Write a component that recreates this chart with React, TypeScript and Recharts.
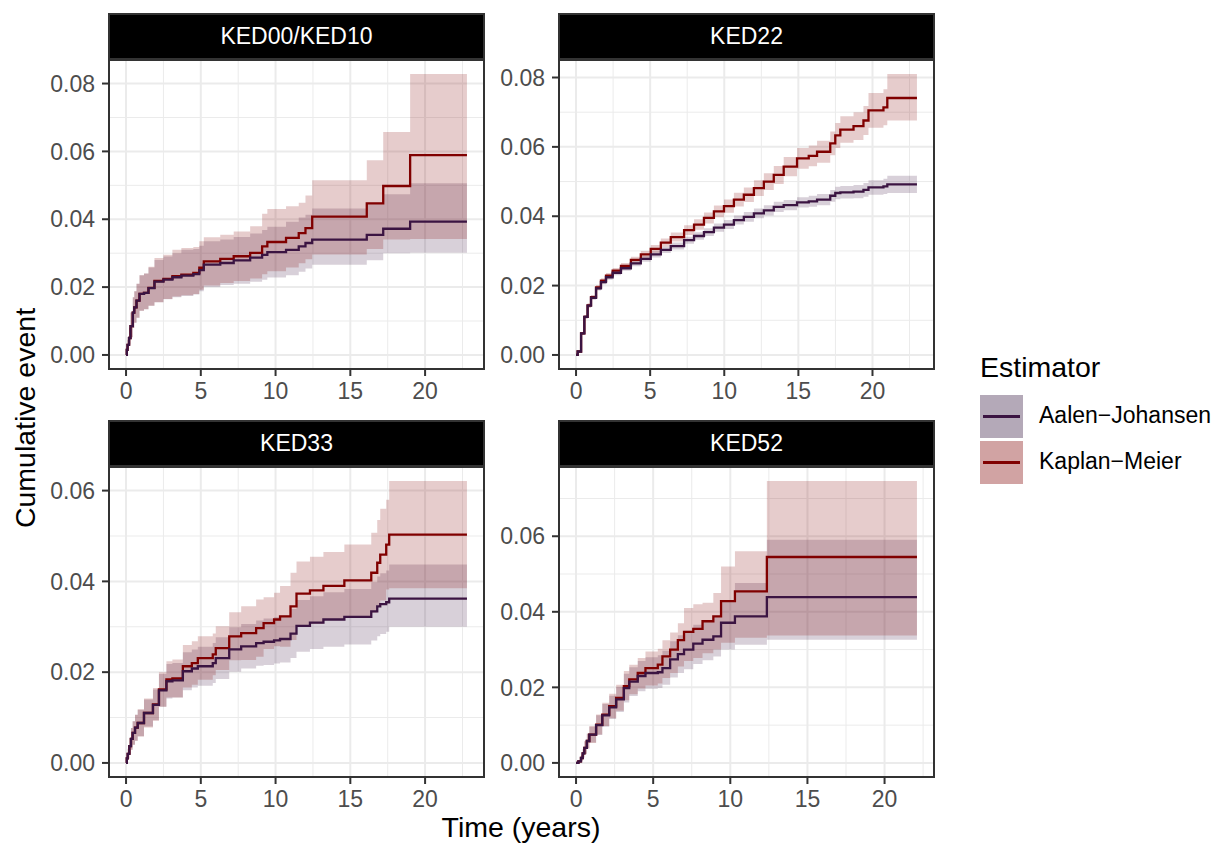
import React from "react";
import { Area, CartesianGrid, ComposedChart, Line, XAxis, YAxis } from "recharts";

const FONT = '"Liberation Sans", Arial, Helvetica, sans-serif';
const AJ_COLOR = "#3b1442";
const KM_COLOR = "#800000";

const xTicks = [0, 5, 10, 15, 20];
const xMinor = [2.5, 7.5, 12.5, 17.5, 22.5];

// KED00/KED10
const time1 = [0, 0.05, 0.1, 0.2, 0.3, 0.45, 0.55, 0.7, 0.9, 1.2, 1.5, 1.9, 2.5, 3.1, 3.7, 4.5, 4.9, 5.2, 6.3, 7.2, 8.3, 9.1, 9.45, 10.7, 11.55, 12.0, 12.45, 16.1, 17.2, 19.0, 22.8];
const km1 = [0, 0.0015, 0.003, 0.005, 0.0085, 0.0125, 0.014, 0.016, 0.018, 0.0183, 0.0198, 0.0218, 0.0224, 0.0232, 0.0237, 0.0242, 0.0257, 0.0276, 0.0283, 0.0291, 0.0301, 0.032, 0.0333, 0.0345, 0.0359, 0.0374, 0.0408, 0.0447, 0.0498, 0.0589, 0.0589];
const km1Lo = [0, 0.0008, 0.0017, 0.003, 0.0052, 0.008, 0.0095, 0.011, 0.013, 0.0135, 0.0145, 0.0155, 0.0165, 0.0172, 0.0176, 0.018, 0.0192, 0.0205, 0.0212, 0.0218, 0.0225, 0.0238, 0.0247, 0.0258, 0.027, 0.0282, 0.0296, 0.0312, 0.034, 0.0342, 0.0342];
const km1Hi = [0, 0.0022, 0.0045, 0.008, 0.0125, 0.017, 0.0188, 0.021, 0.0235, 0.024, 0.026, 0.0286, 0.0295, 0.031, 0.0315, 0.0318, 0.0335, 0.0347, 0.0354, 0.0364, 0.0379, 0.0416, 0.043, 0.0438, 0.0449, 0.047, 0.0515, 0.0574, 0.0657, 0.0828, 0.0828];
const aj1 = [0, 0.0015, 0.003, 0.005, 0.0085, 0.0125, 0.014, 0.016, 0.018, 0.0183, 0.0197, 0.0216, 0.0222, 0.0229, 0.0234, 0.0238, 0.025, 0.0266, 0.0271, 0.0279, 0.0287, 0.0295, 0.0303, 0.031, 0.032, 0.033, 0.034, 0.0354, 0.0372, 0.0393, 0.0393];
const aj1Lo = [0, 0.0008, 0.0017, 0.003, 0.0052, 0.008, 0.0095, 0.011, 0.013, 0.0135, 0.0145, 0.0155, 0.0164, 0.017, 0.0174, 0.0178, 0.0188, 0.02, 0.0206, 0.021, 0.0216, 0.0222, 0.0228, 0.0235, 0.0245, 0.0255, 0.0266, 0.0279, 0.03, 0.0301, 0.0301];
const aj1Hi = [0, 0.0022, 0.0045, 0.008, 0.0125, 0.017, 0.0188, 0.021, 0.0235, 0.024, 0.0258, 0.028, 0.029, 0.03, 0.031, 0.0312, 0.0322, 0.0335, 0.034, 0.0348, 0.0358, 0.0368, 0.0378, 0.0393, 0.0405, 0.0413, 0.0432, 0.0449, 0.0474, 0.0506, 0.0506];

// KED22
const time2 = [0, 0.11, 0.34, 0.56, 0.78, 1.01, 1.35, 1.68, 2.02, 2.47, 3.03, 3.7, 4.37, 5.04, 5.72, 6.39, 7.29, 7.96, 8.63, 9.3, 9.98, 10.65, 11.32, 12.0, 12.67, 13.34, 14.01, 14.91, 15.7, 16.26, 17.15, 17.49, 17.83, 18.72, 19.39, 19.73, 20.74, 21.0, 23.0];
const km2 = [0, 0.001, 0.0062, 0.011, 0.0143, 0.0167, 0.0195, 0.0214, 0.0229, 0.0243, 0.0257, 0.0274, 0.029, 0.0306, 0.0324, 0.034, 0.036, 0.0376, 0.0395, 0.0414, 0.0429, 0.0448, 0.0462, 0.0481, 0.05, 0.0519, 0.0543, 0.0567, 0.0574, 0.0586, 0.061, 0.0633, 0.065, 0.066, 0.0676, 0.0705, 0.0714, 0.0741, 0.0741];
const km2Lo = [0, 0.0008, 0.0058, 0.0105, 0.0137, 0.0161, 0.0188, 0.0207, 0.0222, 0.0235, 0.0249, 0.0265, 0.028, 0.0295, 0.0312, 0.0327, 0.0346, 0.0361, 0.0379, 0.0397, 0.041, 0.0428, 0.0441, 0.0458, 0.0476, 0.0493, 0.0515, 0.0537, 0.0544, 0.0554, 0.0576, 0.0597, 0.0612, 0.062, 0.0634, 0.0655, 0.0662, 0.0676, 0.0676];
const km2Hi = [0, 0.0012, 0.0066, 0.0115, 0.0149, 0.0173, 0.0202, 0.0221, 0.0236, 0.0251, 0.0265, 0.0283, 0.03, 0.0317, 0.0336, 0.0353, 0.0374, 0.0391, 0.0411, 0.0431, 0.0448, 0.0468, 0.0483, 0.0504, 0.0524, 0.0545, 0.0571, 0.0597, 0.0604, 0.0618, 0.0644, 0.0669, 0.0688, 0.07, 0.0718, 0.0755, 0.0766, 0.081, 0.081];
const aj2 = [0, 0.001, 0.0062, 0.011, 0.0142, 0.0165, 0.0192, 0.021, 0.0224, 0.0237, 0.025, 0.0264, 0.0277, 0.029, 0.0303, 0.0314, 0.0331, 0.0343, 0.0354, 0.0367, 0.0376, 0.0389, 0.0398, 0.0408, 0.0417, 0.0427, 0.0432, 0.044, 0.0443, 0.0448, 0.0459, 0.0467, 0.0469, 0.0471, 0.0476, 0.0483, 0.0486, 0.0492, 0.0492];
const aj2Lo = [0, 0.0008, 0.0058, 0.0105, 0.0137, 0.0159, 0.0186, 0.0204, 0.0217, 0.023, 0.0243, 0.0256, 0.0269, 0.0281, 0.0294, 0.0304, 0.0321, 0.0332, 0.0343, 0.0355, 0.0363, 0.0376, 0.0384, 0.0394, 0.0402, 0.0412, 0.0417, 0.0425, 0.0427, 0.0432, 0.0442, 0.0449, 0.0451, 0.0452, 0.0456, 0.0462, 0.0464, 0.0467, 0.0467];
const aj2Hi = [0, 0.0012, 0.0066, 0.0115, 0.0147, 0.0171, 0.0198, 0.0216, 0.0231, 0.0244, 0.0257, 0.0272, 0.0285, 0.0299, 0.0312, 0.0324, 0.0341, 0.0354, 0.0365, 0.0379, 0.0389, 0.0402, 0.0412, 0.0422, 0.0432, 0.0442, 0.0447, 0.0455, 0.0459, 0.0464, 0.0476, 0.0485, 0.0487, 0.049, 0.0496, 0.0504, 0.0508, 0.0517, 0.0517];

// KED33
const time3 = [0, 0.05, 0.11, 0.22, 0.33, 0.44, 0.6, 0.78, 1.2, 1.8, 2.2, 2.7, 3.1, 3.8, 4.4, 4.8, 5.8, 6.0, 6.9, 7.7, 8.7, 9.2, 9.9, 10.3, 11.0, 11.4, 12.3, 13.2, 14.6, 16.4, 16.8, 17.0, 17.4, 17.6, 22.8];
const km3 = [0, 0.001, 0.002, 0.0037, 0.0053, 0.0066, 0.0078, 0.0088, 0.011, 0.0129, 0.0162, 0.0184, 0.0186, 0.0213, 0.022, 0.0231, 0.0239, 0.0253, 0.0279, 0.0286, 0.0297, 0.0308, 0.0316, 0.0323, 0.0345, 0.0373, 0.038, 0.039, 0.0402, 0.0419, 0.0441, 0.0459, 0.0481, 0.0503, 0.0503];
const km3Lo = [0, 0.0004, 0.0009, 0.0019, 0.0029, 0.004, 0.0049, 0.0058, 0.0078, 0.0093, 0.0124, 0.0144, 0.0144, 0.0166, 0.0172, 0.0183, 0.0193, 0.0205, 0.0226, 0.0227, 0.0234, 0.0251, 0.0257, 0.0256, 0.0271, 0.0302, 0.0306, 0.0315, 0.0323, 0.0331, 0.0347, 0.0358, 0.0382, 0.0385, 0.0385];
const km3Hi = [0, 0.0016, 0.0031, 0.0055, 0.0077, 0.0092, 0.0106, 0.0118, 0.0142, 0.0165, 0.02, 0.0224, 0.0228, 0.026, 0.0268, 0.0279, 0.0285, 0.0301, 0.0332, 0.0345, 0.036, 0.0365, 0.0375, 0.039, 0.0419, 0.0444, 0.0454, 0.0465, 0.0481, 0.0507, 0.0535, 0.056, 0.058, 0.0621, 0.0621];
const aj3 = [0, 0.001, 0.002, 0.0037, 0.0053, 0.0066, 0.0078, 0.0088, 0.011, 0.0128, 0.016, 0.018, 0.0182, 0.0202, 0.0208, 0.0213, 0.022, 0.0231, 0.025, 0.0257, 0.0264, 0.0267, 0.027, 0.0273, 0.0285, 0.0302, 0.0309, 0.0316, 0.0322, 0.0334, 0.0345, 0.035, 0.0354, 0.0362, 0.0362];
const aj3Lo = [0, 0.0004, 0.0009, 0.0019, 0.0029, 0.004, 0.0049, 0.0059, 0.008, 0.0094, 0.0124, 0.0142, 0.0144, 0.016, 0.0166, 0.017, 0.0176, 0.0185, 0.0201, 0.0208, 0.0214, 0.0216, 0.0219, 0.0221, 0.0231, 0.0245, 0.0251, 0.0256, 0.0261, 0.027, 0.0279, 0.0284, 0.0289, 0.03, 0.03];
const aj3Hi = [0, 0.0016, 0.0031, 0.0055, 0.0077, 0.0092, 0.0106, 0.0117, 0.014, 0.0162, 0.0196, 0.0218, 0.022, 0.0244, 0.025, 0.0256, 0.0264, 0.0277, 0.0299, 0.0306, 0.0314, 0.0318, 0.0321, 0.0325, 0.0339, 0.0359, 0.0367, 0.0376, 0.0383, 0.0398, 0.0411, 0.0418, 0.0424, 0.0437, 0.0437];

// KED52
const time4 = [0, 0.15, 0.32, 0.43, 0.54, 0.7, 0.86, 1.3, 1.7, 2.15, 2.6, 3.1, 3.45, 4.0, 4.5, 5.3, 5.6, 6.1, 6.6, 7.0, 7.6, 8.2, 8.9, 9.4, 10.3, 12.37, 22.1];
const km4 = [0, 0.0004, 0.0013, 0.0025, 0.004, 0.0058, 0.0075, 0.0101, 0.0128, 0.015, 0.0172, 0.0203, 0.0221, 0.0238, 0.0251, 0.026, 0.0282, 0.03, 0.0325, 0.0347, 0.0355, 0.0375, 0.0388, 0.0428, 0.0454, 0.0545, 0.0545];
const km4Lo = [0, 0.0001, 0.0006, 0.0014, 0.0024, 0.0038, 0.0053, 0.0075, 0.0098, 0.0118, 0.0138, 0.0166, 0.0182, 0.0197, 0.0205, 0.021, 0.0225, 0.0238, 0.0255, 0.027, 0.0278, 0.029, 0.03, 0.0318, 0.0331, 0.0337, 0.0337];
const km4Hi = [0, 0.0007, 0.002, 0.0036, 0.0058, 0.0078, 0.0098, 0.0128, 0.0159, 0.0183, 0.0207, 0.0243, 0.026, 0.0278, 0.0295, 0.0302, 0.0325, 0.0345, 0.037, 0.041, 0.042, 0.0424, 0.045, 0.052, 0.056, 0.0746, 0.0746];
const aj4 = [0, 0.0004, 0.0013, 0.0025, 0.004, 0.0058, 0.0075, 0.01, 0.0126, 0.0147, 0.0168, 0.0198, 0.0215, 0.023, 0.0238, 0.024, 0.0251, 0.0274, 0.0288, 0.03, 0.0316, 0.0326, 0.0335, 0.0371, 0.0388, 0.0439, 0.0439];
const aj4Lo = [0, 0.0001, 0.0006, 0.0014, 0.0023, 0.0038, 0.0054, 0.0074, 0.0096, 0.0116, 0.0135, 0.016, 0.0177, 0.019, 0.0196, 0.0198, 0.0207, 0.0226, 0.0238, 0.0248, 0.0262, 0.0272, 0.0282, 0.03, 0.0313, 0.0326, 0.0326];
const aj4Hi = [0, 0.0007, 0.002, 0.0036, 0.0057, 0.0077, 0.0096, 0.0126, 0.0156, 0.0178, 0.0201, 0.0236, 0.0253, 0.027, 0.028, 0.0285, 0.0297, 0.0322, 0.0338, 0.035, 0.0366, 0.0378, 0.0388, 0.0428, 0.0476, 0.0591, 0.0591];

function buildRows(time, aj, ajLo, ajHi, km, kmLo, kmHi) {
  return time.map((t, i) => ({
    t,
    aj: aj[i],
    ajBand: [ajLo[i], ajHi[i]],
    km: km[i],
    kmBand: [kmLo[i], kmHi[i]],
  }));
}

const panels = [
  {
    title: "KED00/KED10",
    left: 109,
    top: 60,
    height: 309,
    rows: buildRows(time1, aj1, aj1Lo, aj1Hi, km1, km1Lo, km1Hi),
    xDomain: [-1.14, 23.94],
    yDomain: [-0.00414, 0.08694],
    yTicks: [0, 0.02, 0.04, 0.06, 0.08],
    yMinor: [0.01, 0.03, 0.05, 0.07],
  },
  {
    title: "KED22",
    left: 559,
    top: 60,
    height: 309,
    rows: buildRows(time2, aj2, aj2Lo, aj2Hi, km2, km2Lo, km2Hi),
    xDomain: [-1.15, 24.15],
    yDomain: [-0.00405, 0.08505],
    yTicks: [0, 0.02, 0.04, 0.06, 0.08],
    yMinor: [0.01, 0.03, 0.05, 0.07],
  },
  {
    title: "KED33",
    left: 109,
    top: 467,
    height: 310,
    rows: buildRows(time3, aj3, aj3Lo, aj3Hi, km3, km3Lo, km3Hi),
    xDomain: [-1.14, 23.94],
    yDomain: [-0.0031, 0.0652],
    yTicks: [0, 0.02, 0.04, 0.06],
    yMinor: [0.01, 0.03, 0.05],
  },
  {
    title: "KED52",
    left: 559,
    top: 467,
    height: 310,
    rows: buildRows(time4, aj4, aj4Lo, aj4Hi, km4, km4Lo, km4Hi),
    xDomain: [-1.105, 23.205],
    yDomain: [-0.00373, 0.07833],
    yTicks: [0, 0.02, 0.04, 0.06],
    yMinor: [0.01, 0.03, 0.05, 0.07],
  },
];

const PANEL_W = 375;
const AXIS_W = 100;
const AXIS_H = 45;

function Panel({ p }) {
  const tickStyle = { fill: "#4D4D4D", fontSize: 23, fontFamily: FONT };
  const tickLine = { stroke: "#333333", strokeWidth: 2 };
  return (
    <>
      <div
        style={{
          position: "absolute",
          left: p.left - 1,
          top: p.top - 47,
          width: PANEL_W + 2,
          height: 47,
          boxSizing: "border-box",
          background: "#000",
          border: "2px solid #333",
          color: "#fff",
          fontFamily: FONT,
          fontSize: 23,
          display: "flex",
          alignItems: "center",
          justifyContent: "center",
        }}
      >
        {p.title}
      </div>
      <div style={{ position: "absolute", left: p.left - AXIS_W, top: p.top }}>
        <ComposedChart
          width={AXIS_W + PANEL_W}
          height={p.height + AXIS_H}
          data={p.rows}
          margin={{ top: 0, right: 0, bottom: 0, left: 0 }}
        >
          <CartesianGrid
            verticalValues={xMinor}
            horizontalValues={p.yMinor}
            stroke="#EBEBEB"
            strokeWidth={1}
          />
          <CartesianGrid
            verticalValues={xTicks}
            horizontalValues={p.yTicks}
            stroke="#EBEBEB"
            strokeWidth={2}
          />
          <XAxis
            dataKey="t"
            type="number"
            domain={p.xDomain}
            allowDataOverflow
            ticks={xTicks}
            interval={0}
            height={AXIS_H}
            axisLine={false}
            tickLine={tickLine}
            tickSize={7}
            tickMargin={7}
            tick={tickStyle}
          />
          <YAxis
            type="number"
            domain={p.yDomain}
            allowDataOverflow
            ticks={p.yTicks}
            interval={0}
            width={AXIS_W}
            axisLine={false}
            tickLine={tickLine}
            tickSize={7}
            tickMargin={7}
            tick={tickStyle}
            tickFormatter={(v) => v.toFixed(2)}
          />
          <Area
            dataKey="ajBand"
            type="stepAfter"
            fill={AJ_COLOR}
            fillOpacity={0.2}
            stroke="none"
            isAnimationActive={false}
          />
          <Area
            dataKey="kmBand"
            type="stepAfter"
            fill={KM_COLOR}
            fillOpacity={0.2}
            stroke="none"
            isAnimationActive={false}
          />
          <Line
            dataKey="km"
            type="stepAfter"
            stroke={KM_COLOR}
            strokeWidth={2.3}
            dot={false}
            isAnimationActive={false}
          />
          <Line
            dataKey="aj"
            type="stepAfter"
            stroke={AJ_COLOR}
            strokeWidth={2.3}
            dot={false}
            isAnimationActive={false}
          />
        </ComposedChart>
      </div>
      <div
        style={{
          position: "absolute",
          left: p.left - 1,
          top: p.top - 1,
          width: PANEL_W + 2,
          height: p.height + 2,
          boxSizing: "border-box",
          border: "2px solid #333",
          pointerEvents: "none",
        }}
      />
    </>
  );
}

const legendItems = [
  { label: "Aalen\u2212Johansen", fill: "#B4A9B8", line: AJ_COLOR },
  { label: "Kaplan\u2212Meier", fill: "#D1A3A3", line: KM_COLOR },
];

export default function App() {
  return (
    <div
      style={{
        position: "absolute",
        left: 0,
        top: 0,
        width: 1218,
        height: 845,
        background: "#fff",
        fontFamily: FONT,
        overflow: "hidden",
      }}
    >
      {panels.map((p) => (
        <Panel key={p.title} p={p} />
      ))}

      <div
        style={{
          position: "absolute",
          left: 25,
          top: 418,
          transform: "translate(-50%, -50%) rotate(-90deg)",
          fontSize: 28.5,
          lineHeight: 1,
          whiteSpace: "nowrap",
          color: "#000",
        }}
      >
        Cumulative event
      </div>
      <div
        style={{
          position: "absolute",
          left: 521,
          top: 813,
          transform: "translateX(-50%)",
          fontSize: 28.5,
          lineHeight: 1,
          whiteSpace: "nowrap",
          color: "#000",
        }}
      >
        Time (years)
      </div>

      <div
        style={{
          position: "absolute",
          left: 980,
          top: 353,
          fontSize: 28.5,
          lineHeight: 1,
          color: "#000",
        }}
      >
        Estimator
      </div>
      {legendItems.map((item, i) => (
        <React.Fragment key={item.label}>
          <div
            style={{
              position: "absolute",
              left: 980,
              top: 395 + i * 46,
              width: 43,
              height: 43,
              background: item.fill,
            }}
          />
          <div
            style={{
              position: "absolute",
              left: 983,
              top: 415 + i * 46,
              width: 37,
              height: 3,
              background: item.line,
            }}
          />
          <div
            style={{
              position: "absolute",
              left: 1039,
              top: 404 + i * 46,
              fontSize: 23,
              lineHeight: 1,
              whiteSpace: "nowrap",
              color: "#000",
            }}
          >
            {item.label}
          </div>
        </React.Fragment>
      ))}
    </div>
  );
}
